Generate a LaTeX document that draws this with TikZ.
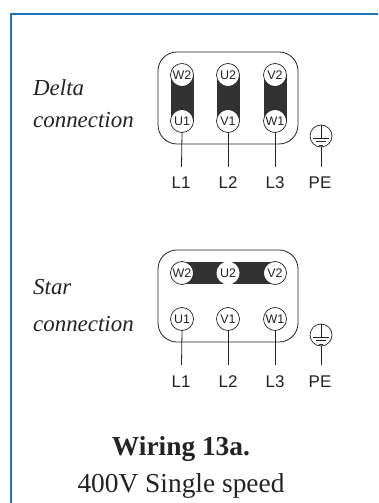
\documentclass[tikz,border=0pt]{standalone}
\usepackage{fontspec}
\setmainfont{Liberation Serif}
\setsansfont{Liberation Sans}
\definecolor{frameblue}{RGB}{30,115,185}
\definecolor{linkdark}{RGB}{50,50,50}
\definecolor{inkdark}{RGB}{35,35,35}
\tikzset{
  x=1bp,y=-1bp,
  term/.style={circle,draw=inkdark,fill=white,line width=.7bp,minimum size=23bp,inner sep=0pt,font=\sffamily\fontsize{12.5}{14}\selectfont,text=inkdark},
  wirebox/.style={draw=inkdark,line width=.8bp,rounded corners=19bp},
  wire/.style={draw=inkdark,line width=.8bp},
  link/.style={fill=linkdark},
  lbl/.style={font=\sffamily\fontsize{17}{19}\selectfont,text=inkdark,inner sep=0pt},
  ital/.style={font=\itshape\fontsize{23}{26}\selectfont,text=inkdark,inner sep=0pt,anchor=west},
  gnd/.style={circle,draw=inkdark,line width=.7bp,minimum size=22bp,inner sep=0pt},
  gndbar/.style={draw=inkdark,line width=.6bp},
  title/.style={font=\fontsize{27.5}{30}\selectfont,text=inkdark,inner sep=0pt}
}
\begin{document}
\begin{tikzpicture}
\useasboundingbox (0,0) rectangle (378,503);
\fill[white] (0,0) rectangle (378,503);
\draw[frameblue,line width=2bp] (10.5,503) -- (10.5,14.5) -- (378,14.5);

% Delta
\draw[wirebox] (158,52) rectangle (298,144);
\fill[link] (170.5,75) rectangle (193.5,121);
\fill[link] (216.5,75) rectangle (239.5,121);
\fill[link] (263.5,75) rectangle (286.5,121);
\node[term] (dw2) at (182,75) {W2};
\node[term] (du2) at (228,75) {U2};
\node[term] (dv2) at (275,75) {V2};
\node[term] (du1) at (182,121) {U1};
\node[term] (dv1) at (228,121) {V1};
\node[term] (dw1) at (275,121) {W1};
\node[lbl] (dl1) at (181,183) {L1};
\node[lbl] (dl2) at (228,183) {L2};
\node[lbl] (dl3) at (275,183) {L3};
\node[lbl] (dpe) at (320,183) {PE};
\coordinate (dc1) at (181.5,167);
\coordinate (dc2) at (228,167);
\coordinate (dc3) at (275,167);
\coordinate (dc4) at (321,167);
\draw[wire] (du1.south) -- (dc1);
\draw[wire] (dv1.south) -- (dc2);
\draw[wire] (dw1.south) -- (dc3);
\node[gnd] (dg) at (321,136) {};
\draw[wire] (dg.south) -- (dc4);
\draw[gndbar] (321,125) -- (321,138) (313,138) -- (329,138) (316,141.5) -- (326,141.5) (319,145) -- (323,145);

% Star
\draw[wirebox] (158,250) rectangle (298,342);
\fill[link] (182,262) rectangle (275,284);
\node[term] (sw2) at (182,273) {W2};
\node[term,draw=none] (su2) at (228,273) {U2};
\node[term] (sv2) at (275,273) {V2};
\node[term] (su1) at (182,319) {U1};
\node[term] (sv1) at (228,319) {V1};
\node[term] (sw1) at (275,319) {W1};
\node[lbl] (sl1) at (181,382) {L1};
\node[lbl] (sl2) at (228,382) {L2};
\node[lbl] (sl3) at (275,382) {L3};
\node[lbl] (spe) at (320,382) {PE};
\coordinate (sc1) at (181.5,365);
\coordinate (sc2) at (228,365);
\coordinate (sc3) at (275,365);
\coordinate (sc4) at (321,365);
\draw[wire] (su1.south) -- (sc1);
\draw[wire] (sv1.south) -- (sc2);
\draw[wire] (sw1.south) -- (sc3);
\node[gnd] (sg) at (321,335) {};
\draw[wire] (sg.south) -- (sc4);
\draw[gndbar] (321,324) -- (321,337) (313,337) -- (329,337) (316,340.5) -- (326,340.5) (319,344) -- (323,344);

% Texts
\node[ital] (t1) at (33,88) {Delta};
\node[ital] (t2) at (33,120) {connection};
\node[ital] (t3) at (33,287) {Star};
\node[ital] (t4) at (33,324) {connection};
\node[title,font=\bfseries\fontsize{27.5}{30}\selectfont] (t5) at (181,449) {Wiring 13a.};
\node[title] (t6) at (181,486) {400V Single speed};
\end{tikzpicture}
\end{document}
